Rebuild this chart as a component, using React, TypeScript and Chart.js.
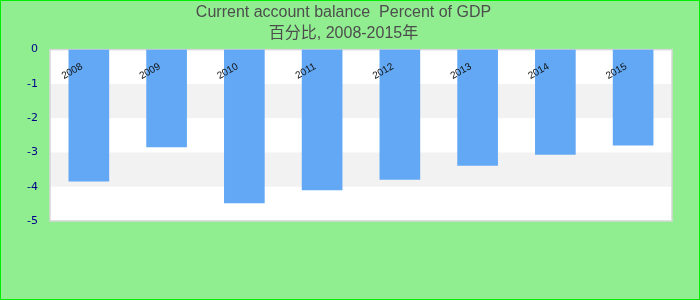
import React, { useEffect, useRef } from "react";
import { Chart, registerables } from "chart.js";

Chart.register(...registerables);

const years = ["2008", "2009", "2010", "2011", "2012", "2013", "2014", "2015"];
const balance = [-3.84, -2.84, -4.47, -4.09, -3.79, -3.38, -3.06, -2.79];
const yMin = -5;
const yMax = 0;
const yStep = 1;
const titleLines = ["Current account balance  Percent of GDP", "百分比, 2008-2015年"];

const plotBackground = {
  id: "plotBackground",
  beforeDraw(chart: any) {
    const { ctx, chartArea: a, scales } = chart;
    const y = scales.y;
    ctx.save();
    ctx.fillStyle = "#ffffff";
    ctx.fillRect(a.left, a.top, a.right - a.left, a.bottom - a.top);
    ctx.fillStyle = "#f2f2f2";
    for (let v = yMax - yStep; v > yMin; v -= 2 * yStep) {
      const top = y.getPixelForValue(v);
      const bottom = y.getPixelForValue(v - yStep);
      ctx.fillRect(a.left, top, a.right - a.left, bottom - top);
    }
    ctx.strokeStyle = "#d6d6d6";
    ctx.lineWidth = 1.5;
    ctx.strokeRect(a.left, a.top, a.right - a.left, a.bottom - a.top);
    ctx.restore();
  },
};

export default function App() {
  const ref = useRef<HTMLCanvasElement | null>(null);

  useEffect(() => {
    if (!ref.current) return;
    const chart = new Chart(ref.current, {
      type: "bar",
      data: {
        labels: years,
        datasets: [
          {
            data: balance,
            backgroundColor: "#62a8f4",
            barThickness: 40,
          },
        ],
      },
      options: {
        animation: false,
        responsive: false,
        maintainAspectRatio: false,
        layout: { padding: { left: 14, right: 27, top: 0, bottom: 78 } },
        plugins: {
          legend: { display: false },
          tooltip: { enabled: false },
          title: {
            display: true,
            text: titleLines,
            color: "#4d4d4d",
            font: {
              family: "'Liberation Sans', 'Noto Sans CJK SC', sans-serif",
              size: 16,
              weight: "normal",
              lineHeight: 1.3,
            },
            padding: { top: 1, bottom: 6 },
          },
        },
        scales: {
          x: {
            position: { y: 0 } as any,
            grid: { display: false, drawTicks: false },
            border: { display: false },
            ticks: {
              z: 1,
              minRotation: 30,
              maxRotation: 30,
              labelOffset: -7,
              color: "#111111",
              font: { family: "'Liberation Sans', sans-serif", size: 10 },
              padding: 11,
            },
          },
          y: {
            min: yMin,
            max: yMax,
            grid: { display: false, drawTicks: false },
            border: { display: false },
            ticks: {
              stepSize: yStep,
              color: "#00008b",
              font: { family: "'DejaVu Sans', sans-serif", size: 11 },
              padding: 12,
            },
          },
        },
      } as any,
      plugins: [plotBackground],
    });
    return () => chart.destroy();
  }, []);

  return (
    <div
      style={{
        position: "absolute",
        left: 0,
        top: 0,
        width: 700,
        height: 300,
        boxSizing: "border-box",
        border: "1px solid #00ee00",
        background: "#90ee90",
      }}
    >
      <canvas ref={ref} width={698} height={298} style={{ display: "block" }} />
    </div>
  );
}
